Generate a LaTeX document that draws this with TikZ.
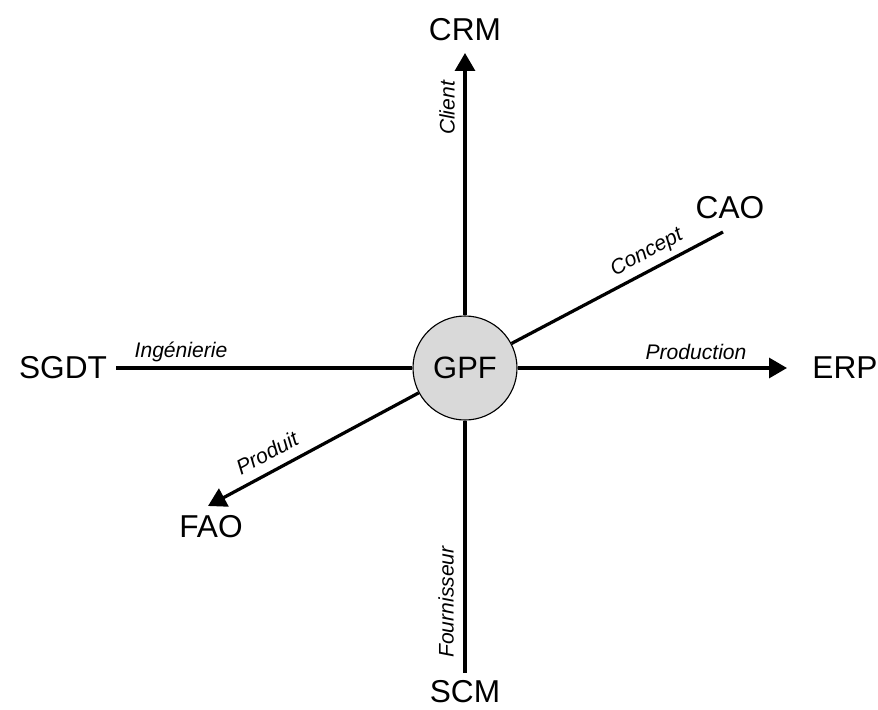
\documentclass[tikz,border=0pt]{standalone}
\usepackage{fontspec}
\setmainfont{Liberation Sans}
\usetikzlibrary{arrows.meta}

\tikzset{
    axis/.style={line width=2.3pt},
    tip/.style={-{Triangle[length=0.45cm,width=0.5cm]}},
    syslabel/.style={font=\fontsize{22.5}{26}\selectfont},
    flowlabel/.style={font=\fontsize{15}{17}\selectfont\itshape, inner sep=1pt}
}

\begin{document}
\begin{tikzpicture}
    \useasboundingbox (-11.625, -8.525) rectangle (10.325, 9.2);

    % centre
    \node [circle, draw, line width=0.8pt, fill=gray!30, minimum size=2.6cm,
	font=\fontsize{22}{26}\selectfont] (gpf) at (0, 0) {GPF};

    % end points of the axes
    \coordinate (crmtip) at (0, 7.875);
    \coordinate (scmend) at (0, -7.625);
    \coordinate (sgdtend) at (-8.725, 0);
    \coordinate (erptip) at (8.05, 0);
    \coordinate (caoend) at (6.45, 3.4);
    \coordinate (faotip) at (-6.425, -3.45);

    % systems
    \node [syslabel] (crm) at (0, 8.45) {CRM};
    \node [syslabel] (scm) at (0, -8.1) {SCM};
    \node [syslabel] (sgdt) at (-10.05, 0) {SGDT};
    \node [syslabel] (erp) at (9.5, 0) {ERP};
    \node [syslabel] (cao) at (6.625, 4.0) {CAO};
    \node [syslabel] (fao) at (-6.35, -3.975) {FAO};

    % axes
    \draw [axis, tip] (gpf) -- (crmtip);
    \draw [axis] (gpf) -- (scmend);
    \draw [axis] (gpf) -- (sgdtend);
    \draw [axis, tip] (gpf) -- (erptip);
    \draw [axis] (gpf) -- (caoend);
    \draw [axis, tip] (gpf) -- (faotip);

    % flows
    \node [flowlabel, rotate=90] (client) at (-0.45, 6.5) {Client};
    \node [flowlabel, rotate=90] (fournisseur) at (-0.475, -5.85) {Fournisseur};
    \node [flowlabel] (ingenierie) at (-7.1, 0.4) {Ingénierie};
    \node [flowlabel] (production) at (5.775, 0.4) {Production};
    \node [flowlabel, rotate=28] (concept) at (4.55, 2.875) {Concept};
    \node [flowlabel, rotate=28] (produit) at (-4.95, -2.125) {Produit};
\end{tikzpicture}
\end{document}
